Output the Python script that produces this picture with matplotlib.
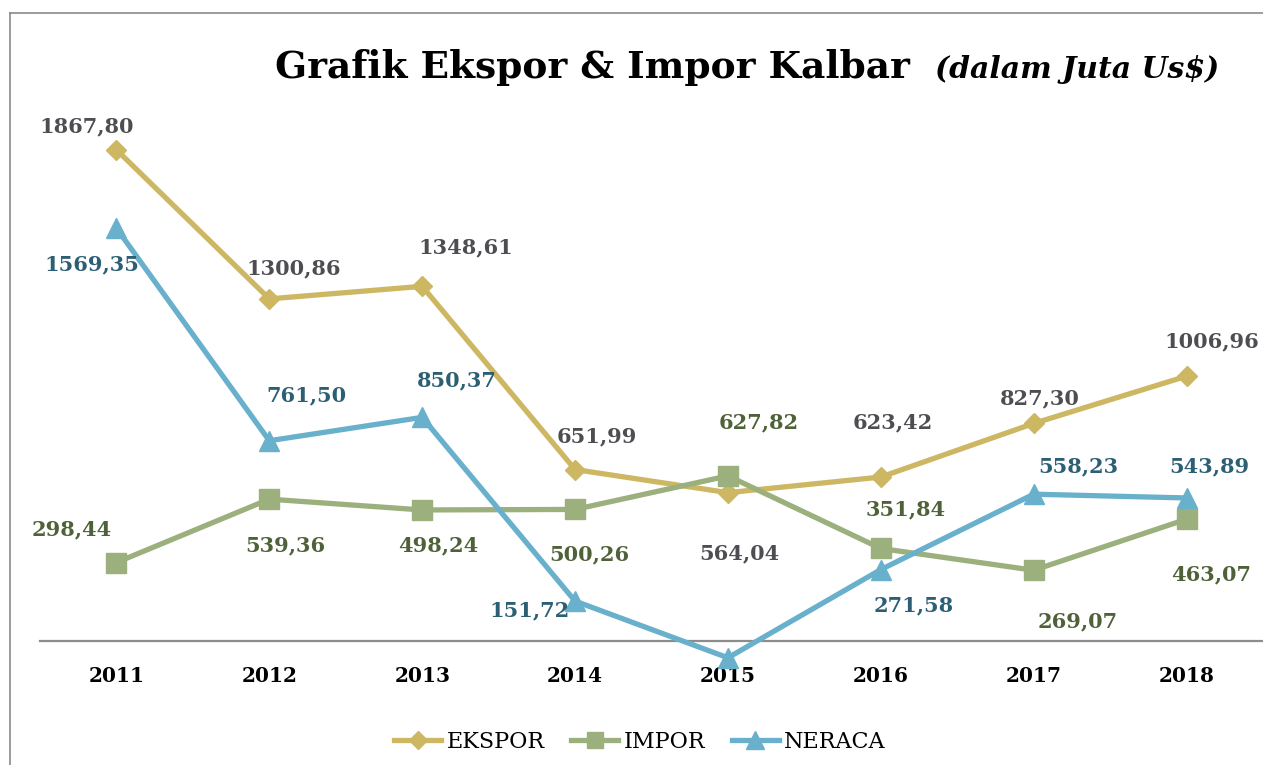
import matplotlib.pyplot as plt
from matplotlib.lines import Line2D

# data (nilai dalam juta US$)
tahun = ['2011', '2012', '2013', '2014', '2015', '2016', '2017', '2018']
ekspor = [1867.80, 1300.86, 1348.61, 651.99, 564.04, 623.42, 827.30, 1006.96]
impor = [298.44, 539.36, 498.24, 500.26, 627.82, 351.84, 269.07, 463.07]
neraca = [1569.35, 761.50, 850.37, 151.72, -63.78, 271.58, 558.23, 543.89]

# posisi label (offset pixel dari titik)
off_ekspor = [(-30, 23), (24, 30), (44, 39), (22, 33), (11, -61), (12, 55), (6, 25), (25, 35)]
off_impor = [(-45, 33), (16, -46), (16, -35), (14, -45), (31, 54), (25, 39), (44, -51), (25, -55)]
off_neraca = [(-25, -36), (37, 45), (35, 37), (-45, -9), (66, -13), (33, -36), (45, 28), (23, 32)]

FONT = 'DejaVu Serif'
W, H = 1263, 765

fig = plt.figure(figsize=(W / 100, H / 100), dpi=100)
ax = fig.add_axes([40 / W, (H - 641) / H, 1 - 40 / W, 581 / H])

x = range(len(tahun))
series = [
    ('EKSPOR', ekspor, '#CDB763', 'D', 10.5, '#4E4D52', off_ekspor),
    ('IMPOR', impor, '#9BB07C', 's', 14, '#4F6138', off_impor),
    ('NERACA', neraca, '#68B0CB', '^', 15, '#2C5F74', off_neraca),
]
for nama, vals, warna, mk, ms, warna_lbl, offs in series:
    ax.plot(x, vals, color=warna, lw=3.8, marker=mk, ms=ms, mec=warna,
            label=nama, clip_on=False, zorder=3)
    for i, v in enumerate(vals):
        teks = f'{v:.2f}'.replace('.', ',')
        ax.annotate(teks, (i, v), xytext=offs[i], textcoords='offset pixels',
                    ha='center', va='center', fontsize=15, fontweight='bold',
                    family=FONT, color=warna_lbl, zorder=4)

ax.set_xlim(-0.5, len(tahun) - 0.5)
ax.set_ylim(0, 581 / 0.263)
for s in ['top', 'left', 'right']:
    ax.spines[s].set_visible(False)
ax.spines['bottom'].set_color('#8C8C8C')
ax.spines['bottom'].set_linewidth(1.6)
ax.set_yticks([])
ax.set_xticks(list(x))
ax.set_xticklabels(tahun, fontsize=14.5, fontweight='bold', family=FONT)
ax.tick_params(axis='x', length=0, pad=18)

# judul
fig.text(275 / W, 1 - 78 / H, 'Grafik Ekspor & Impor Kalbar', fontsize=27,
         fontweight='bold', family=FONT, va='baseline', ha='left')
fig.text(935 / W, 1 - 78 / H, '(dalam Juta Us$)', fontsize=21.5,
         fontweight='bold', style='italic', family=FONT, va='baseline', ha='left')

leg = fig.legend(loc='center', bbox_to_anchor=(640 / W, 1 - 742 / H), ncol=3,
                 frameon=False, prop={'family': FONT, 'size': 16},
                 handlelength=2.1, handletextpad=0.25, columnspacing=1.2)
for h in leg.legend_handles:
    h.set_markersize(h.get_markersize() * 0.85)

# bingkai
fig.add_artist(Line2D([9.5 / W, 9.5 / W], [0, 1 - 13 / H], color='#8A8A8A', lw=1.2))
fig.add_artist(Line2D([9.5 / W, 1], [1 - 13 / H, 1 - 13 / H], color='#8A8A8A', lw=1.2))

fig.savefig('out.png', dpi=100)
